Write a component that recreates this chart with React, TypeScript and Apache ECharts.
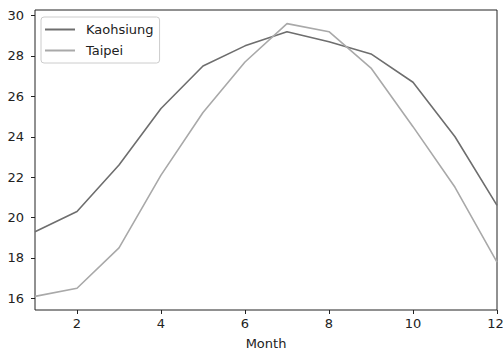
import React, { useEffect, useRef } from "react";
import * as echarts from "echarts";

const months = [1, 2, 3, 4, 5, 6, 7, 8, 9, 10, 11, 12];
const kaohsiung = [19.3, 20.3, 22.6, 25.4, 27.5, 28.5, 29.2, 28.7, 28.1, 26.7, 24.0, 20.6];
const taipei = [16.1, 16.5, 18.5, 22.1, 25.2, 27.7, 29.6, 29.2, 27.4, 24.5, 21.5, 17.8];
const xTicks = [2, 4, 6, 8, 10, 12];
const yTicks = [16, 18, 20, 22, 24, 26, 28, 30];

const FONT = "DejaVu Sans";

export default function App() {
  const ref = useRef<HTMLDivElement>(null);
  useEffect(() => {
    if (!ref.current) return;
    const chart = echarts.init(ref.current, undefined, { renderer: "svg" });
    const toPairs = (ys: number[]) => months.map((m, i) => [m, ys[i]]);
    const lastX = xTicks[xTicks.length - 1];
    chart.setOption({
      animation: false,
      backgroundColor: "#fff",
      grid: {
        left: 35,
        right: 6,
        top: 10,
        bottom: 41,
        outerBoundsMode: "none",
        containLabel: false,
        show: true,
        borderColor: "#222",
        borderWidth: 1,
        backgroundColor: "transparent",
      },
      legend: {
        orient: "vertical",
        left: 41,
        top: 17,
        padding: [5, 6, 5, 4],
        itemGap: 6,
        itemWidth: 30,
        itemHeight: 2,
        icon: "rect",
        borderColor: "#cccccc",
        borderWidth: 1,
        borderRadius: 3,
        backgroundColor: "rgba(255,255,255,0.8)",
        textStyle: {
          fontFamily: FONT,
          fontSize: 13,
          color: "#222",
          lineHeight: 15,
          padding: [0, 0, 0, 6],
        },
        data: ["Kaohsiung", "Taipei"],
      },
      xAxis: {
        type: "value",
        min: 1,
        max: 12,
        name: "Month",
        nameLocation: "middle",
        nameGap: 27,
        nameTextStyle: { fontFamily: FONT, fontSize: 13, color: "#222" },
        axisLine: { show: false },
        axisTick: {
          show: true,
          length: 4,
          customValues: xTicks,
          lineStyle: { color: "#222", width: 1 },
        },
        axisLabel: {
          customValues: xTicks,
          margin: 7,
          fontFamily: FONT,
          fontSize: 13,
          color: "#222",
          formatter: (v: number) => (v === lastX ? `{r|${v}}` : `${v}`),
          rich: {
            r: { fontFamily: FONT, fontSize: 13, color: "#222", padding: [0, 3, 0, 0] },
          },
        },
        splitLine: { show: false },
      },
      yAxis: {
        type: "value",
        min: 15.425,
        max: 30.275,
        axisLine: { show: false },
        axisTick: {
          show: true,
          length: 4,
          customValues: yTicks,
          lineStyle: { color: "#222", width: 1 },
        },
        axisLabel: {
          customValues: yTicks,
          margin: 11,
          fontFamily: FONT,
          fontSize: 13,
          color: "#222",
        },
        splitLine: { show: false },
      },
      series: [
        {
          name: "Kaohsiung",
          type: "line",
          data: toPairs(kaohsiung),
          symbol: "none",
          color: "#6e6e6e",
          lineStyle: { color: "#6e6e6e", width: 1.6 },
        },
        {
          name: "Taipei",
          type: "line",
          data: toPairs(taipei),
          symbol: "none",
          color: "#a9a9a9",
          lineStyle: { color: "#a9a9a9", width: 1.6 },
        },
      ],
    });
    return () => chart.dispose();
  }, []);
  return <div ref={ref} style={{ width: 503, height: 351, position: "absolute", left: 0, top: 0 }} />;
}
